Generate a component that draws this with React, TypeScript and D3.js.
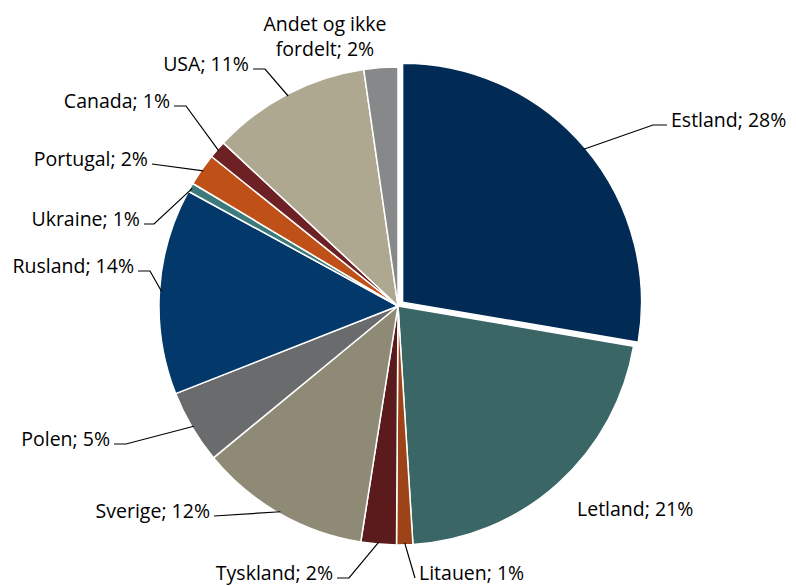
import React from "react";
import * as d3 from "d3";

// andel af total
const countries = ["Estland", "Letland", "Litauen", "Tyskland", "Sverige", "Polen", "Rusland", "Ukraine", "Portugal", "Canada", "USA", "Andet og ikke fordelt"];
const shares = [27.8, 21.4, 1.1, 2.4, 11.6, 5.0, 14.0, 0.6, 2.2, 1.2, 10.8, 2.3];
const pctLabels = [28, 21, 1, 2, 12, 5, 14, 1, 2, 1, 11, 2];
const colors = ["#012b54", "#3a6666", "#9c4317", "#5b1b1c", "#8f8a76", "#6a6b6d", "#02386a", "#3c7a7b", "#bf5018", "#6e2125", "#aea891", "#87888a"];

// label layout: text anchor point, anchor side, horizontal leader length (null = no leader)
const labelPos: { x: number; y: number; anchor: string; lead: number | null }[] = [
  { x: 671, y: 127, anchor: "start", lead: 14 },
  { x: 577, y: 516, anchor: "start", lead: null },
  { x: 419, y: 580, anchor: "start", lead: 0 },
  { x: 333, y: 580, anchor: "end", lead: 12 },
  { x: 210, y: 518, anchor: "end", lead: 0 },
  { x: 110, y: 446, anchor: "end", lead: 12 },
  { x: 134, y: 273, anchor: "end", lead: 12 },
  { x: 140, y: 226, anchor: "end", lead: 10 },
  { x: 148, y: 166, anchor: "end", lead: 0 },
  { x: 170, y: 108, anchor: "end", lead: 12 },
  { x: 249, y: 71, anchor: "end", lead: 12 },
  { x: 325, y: 31, anchor: "middle", lead: null },
];

const W = 796;
const H = 586;
const cx = 398;
const cy = 306;
const R = 239;
const explode = 6;

export default function App() {
  const pie = d3.pie<number>().sort(null).value((d) => d);
  const arcs = pie(shares);
  const arc = d3.arc<d3.PieArcDatum<number>>().innerRadius(0).outerRadius(R);

  return (
    <svg width={W} height={H} style={{ position: "absolute", left: 0, top: 0 }} fontFamily="'Open Sans', sans-serif" fontSize={19.5}>
      <rect width={W} height={H} fill="#fff" />
      <g transform={`translate(${cx},${cy})`}>
        {arcs.map((a, i) => {
          const mid = (a.startAngle + a.endAngle) / 2;
          const off = i === 0 ? explode : 0;
          const dx = Math.sin(mid) * off;
          const dy = -Math.cos(mid) * off;
          return (
            <path key={i} d={arc(a) || ""} transform={`translate(${dx},${dy})`} fill={colors[i]} stroke="#fff" strokeWidth={1.5} strokeLinejoin="round" />
          );
        })}
      </g>
      {arcs.map((a, i) => {
        const p = labelPos[i];
        const mid = (a.startAngle + a.endAngle) / 2;
        const off = i === 0 ? explode : 0;
        const rr = R - 2 + off;
        const px = cx + Math.sin(mid) * rr;
        const py = cy - Math.cos(mid) * rr;
        let leader = null;
        if (p.lead !== null) {
          const ly = p.y - 2;
          const sx = p.anchor === "start" ? p.x - 4 : p.x + 4;
          const ex = p.anchor === "start" ? sx - p.lead : sx + p.lead;
          leader = <polyline points={`${sx},${ly} ${ex},${ly} ${px},${py}`} fill="none" stroke="#000" strokeWidth={1.2} />;
        }
        const label = `${countries[i]}; ${pctLabels[i]}%`;
        return (
          <g key={i}>
            {leader}
            {p.anchor === "middle" ? (
              <text x={p.x} y={p.y} textAnchor="middle" fill="#000">
                <tspan x={p.x}>Andet og ikke</tspan>
                <tspan x={p.x} dy={25}>fordelt; {pctLabels[i]}%</tspan>
              </text>
            ) : (
              <text x={p.x} y={p.y} textAnchor={p.anchor} fill="#000">
                {label}
              </text>
            )}
          </g>
        );
      })}
    </svg>
  );
}
